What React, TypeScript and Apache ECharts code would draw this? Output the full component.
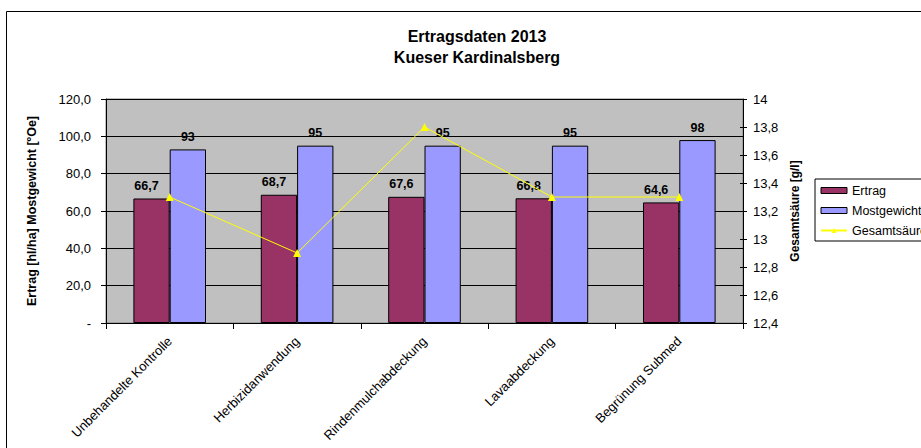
import React, { useEffect, useRef } from "react";
import * as echarts from "echarts";

const categories = [
  "Unbehandelte Kontrolle",
  "Herbizidanwendung",
  "Rindenmulchabdeckung",
  "Lavaabdeckung",
  "Begrünung Submed",
];
const ertrag = [66.7, 68.7, 67.6, 66.8, 64.6];
const mostgewicht = [93, 95, 95, 95, 98];
const gesamtsaeure = [13.3, 12.9, 13.8, 13.3, 13.3];

const FONT = "'Liberation Sans', Arial, sans-serif";

const comma = (v: number, digits: number) => v.toFixed(digits).replace(".", ",");
const acidLabel = (v: number) => String(Number(v.toFixed(1))).replace(".", ",");

export default function App() {
  const ref = useRef<HTMLDivElement>(null);

  useEffect(() => {
    if (!ref.current) return;
    const chart = echarts.init(ref.current, undefined, { renderer: "svg" });
    chart.setOption({
      animation: false,
      backgroundColor: "#ffffff",
      textStyle: { fontFamily: FONT, color: "#000" },
      title: {
        text: "Ertragsdaten 2013\nKueser Kardinalsberg",
        left: 472,
        textAlign: "center",
        top: 21,
        textStyle: { fontFamily: FONT, fontSize: 16, fontWeight: "bold", color: "#000", lineHeight: 21 },
      },
      graphic: [
        {
          type: "rect",
          shape: { x: 6.5, y: 11.5, width: 1000, height: 1000 },
          style: { fill: "none", stroke: "#000", lineWidth: 1 },
          silent: true,
          z: -1,
        },
      ],
      legend: {
        orient: "vertical",
        left: 815,
        top: 179,
        padding: [5, 20, 4, 5],
        itemGap: 7,
        itemWidth: 26,
        itemHeight: 6,
        borderColor: "#000",
        borderWidth: 1,
        backgroundColor: "#fff",
        textStyle: { fontFamily: FONT, fontSize: 12.5, color: "#000" },
        data: [
          { name: "Ertrag", icon: "rect", itemStyle: { borderColor: "#000", borderWidth: 1 } },
          { name: "Mostgewicht", icon: "rect", itemStyle: { borderColor: "#000", borderWidth: 1 } },
          { name: "Gesamtsäure" },
        ],
      },
      grid: {
        left: 106,
        right: 178,
        top: 99,
        bottom: 125,
        show: true,
        backgroundColor: "#C0C0C0",
        borderColor: "#808080",
        borderWidth: 1,
      },
      xAxis: {
        type: "category",
        data: categories,
        axisLine: { lineStyle: { color: "#000", width: 1 } },
        axisTick: { show: true, alignWithLabel: false, length: 6, lineStyle: { color: "#000" } },
        axisLabel: {
          interval: 0,
          rotate: 45,
          margin: 16,
          fontFamily: FONT,
          fontSize: 13,
          color: "#000",
        },
      },
      yAxis: [
        {
          type: "value",
          min: 0,
          max: 120,
          interval: 20,
          name: "Ertrag [hl/ha] Mostgewicht [ºOe]",
          nameLocation: "middle",
          nameRotate: 90,
          nameGap: 68,
          nameTextStyle: { fontFamily: FONT, fontSize: 12.5, fontWeight: "bold", color: "#000" },
          axisLine: { show: true, lineStyle: { color: "#000" } },
          axisTick: { show: true, length: 5, lineStyle: { color: "#000" } },
          axisLabel: {
            fontFamily: FONT,
            fontSize: 13,
            color: "#000",
            margin: 15,
            formatter: (v: number) => (v === 0 ? "-" : comma(v, 1)),
          },
          splitLine: { show: true, lineStyle: { color: "#000", width: 1 } },
        },
        {
          type: "value",
          min: 12.4,
          max: 14,
          interval: 0.2,
          name: "Gesamtsäure [g/l]",
          nameLocation: "middle",
          nameRotate: 90,
          nameGap: 40,
          nameTextStyle: { fontFamily: FONT, fontSize: 12, fontWeight: "bold", color: "#000" },
          axisLine: { show: true, lineStyle: { color: "#000" } },
          axisTick: { show: true, inside: false, length: 4, lineStyle: { color: "#000" } },
          axisLabel: {
            fontFamily: FONT,
            fontSize: 13,
            color: "#000",
            margin: 10,
            formatter: acidLabel,
          },
          splitLine: { show: false },
        },
        {
          // inner half of the crossing ticks on the acid axis
          type: "value",
          position: "right",
          min: 12.4,
          max: 14,
          interval: 0.2,
          axisLine: { show: false },
          axisTick: { show: true, inside: true, length: 3, lineStyle: { color: "#000" } },
          axisLabel: { show: false },
          splitLine: { show: false },
        },
      ],
      series: [
        {
          name: "Ertrag",
          type: "bar",
          yAxisIndex: 0,
          data: ertrag,
          barGap: "0%",
          barCategoryGap: "43%",
          itemStyle: { color: "#993366", borderColor: "#000", borderWidth: 1 },
          label: {
            show: true,
            position: "top",
            distance: 6,
            offset: [-5, 0],
            fontFamily: FONT,
            fontSize: 12.5,
            fontWeight: "bold",
            color: "#000",
            formatter: (p: any) => comma(p.value, 1),
          },
        },
        {
          name: "Mostgewicht",
          type: "bar",
          yAxisIndex: 0,
          data: mostgewicht,
          barGap: "0%",
          barCategoryGap: "43%",
          itemStyle: { color: "#9999FF", borderColor: "#000", borderWidth: 1 },
          label: {
            show: true,
            position: "top",
            distance: 6,
            fontFamily: FONT,
            fontSize: 12.5,
            fontWeight: "bold",
            color: "#000",
            formatter: (p: any) => String(p.value),
          },
        },
        {
          name: "Gesamtsäure",
          type: "line",
          yAxisIndex: 1,
          data: gesamtsaeure,
          symbol: "triangle",
          symbolSize: 8,
          lineStyle: { color: "#FFFF00", width: 1 },
          itemStyle: { color: "#FFFF00" },
          z: 5,
        },
      ],
    });
    return () => chart.dispose();
  }, []);

  return (
    <div
      ref={ref}
      style={{ position: "fixed", left: 0, top: 0, width: 921, height: 448 }}
    />
  );
}
